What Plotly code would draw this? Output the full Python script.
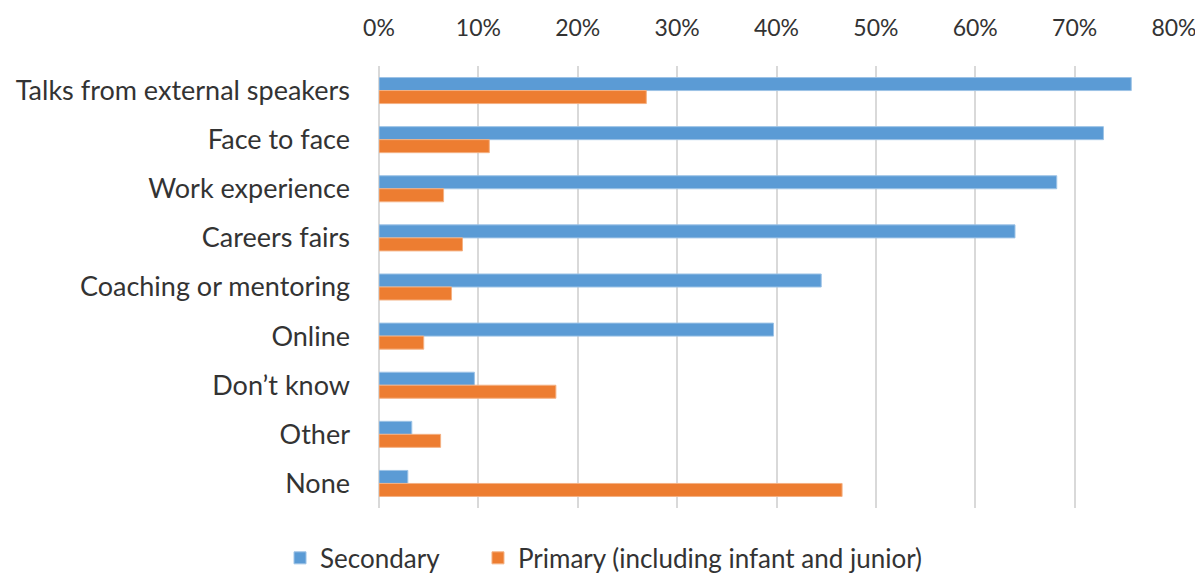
import plotly.graph_objects as go

categorias = ["Talks from external speakers", "Face to face", "Work experience",
              "Careers fairs", "Coaching or mentoring", "Online", "Don’t know",
              "Other", "None"]
secundaria = [0.757, 0.729, 0.682, 0.640, 0.445, 0.397, 0.096, 0.033, 0.029]
primaria = [0.269, 0.111, 0.065, 0.084, 0.073, 0.045, 0.178, 0.062, 0.466]
ticks_x = [0, 0.1, 0.2, 0.3, 0.4, 0.5, 0.6, 0.7, 0.8]

fuente = "Lato"

fig = go.Figure()
fig.add_trace(go.Bar(y=categorias, x=secundaria, name="Secondary", orientation="h",
                     marker=dict(color="#5B9BD5", line=dict(color="#9DC3E6", width=1)),
                     legend="legend"))
fig.add_trace(go.Bar(y=categorias, x=primaria, name="Primary (including infant and junior)",
                     orientation="h",
                     marker=dict(color="#ED7D31", line=dict(color="#F4B183", width=1)),
                     legend="legend2"))

# la página tiene 8px de margen en body: figura algo más pequeña para que quepa
leyenda = dict(orientation="h", xanchor="left", y=-0.113, yanchor="middle",
               font=dict(size=26))
fig.update_layout(
    width=1195, height=568,
    barmode="group", bargap=0.47, bargroupgap=0,
    plot_bgcolor="white", paper_bgcolor="white",
    font=dict(family=fuente, size=26, color="#333333"),
    margin=dict(l=371, r=29, t=58, b=68, autoexpand=False),
    showlegend=True,
    legend=dict(leyenda, x=-0.1245),
    legend2=dict(leyenda, x=0.1245),
)
fig.update_xaxes(side="top", range=[0, 0.8], tickvals=ticks_x, tickformat=".0%",
                 showgrid=True, gridcolor="#D9D9D9", gridwidth=2,
                 zeroline=True, zerolinecolor="#D9D9D9", zerolinewidth=2,
                 showline=False, ticklabelstandoff=24, tickfont=dict(size=23))
fig.update_yaxes(autorange="reversed", showgrid=False, showline=False,
                 ticklabelstandoff=28, tickfont=dict(size=27))

fig.write_html("out.html")
